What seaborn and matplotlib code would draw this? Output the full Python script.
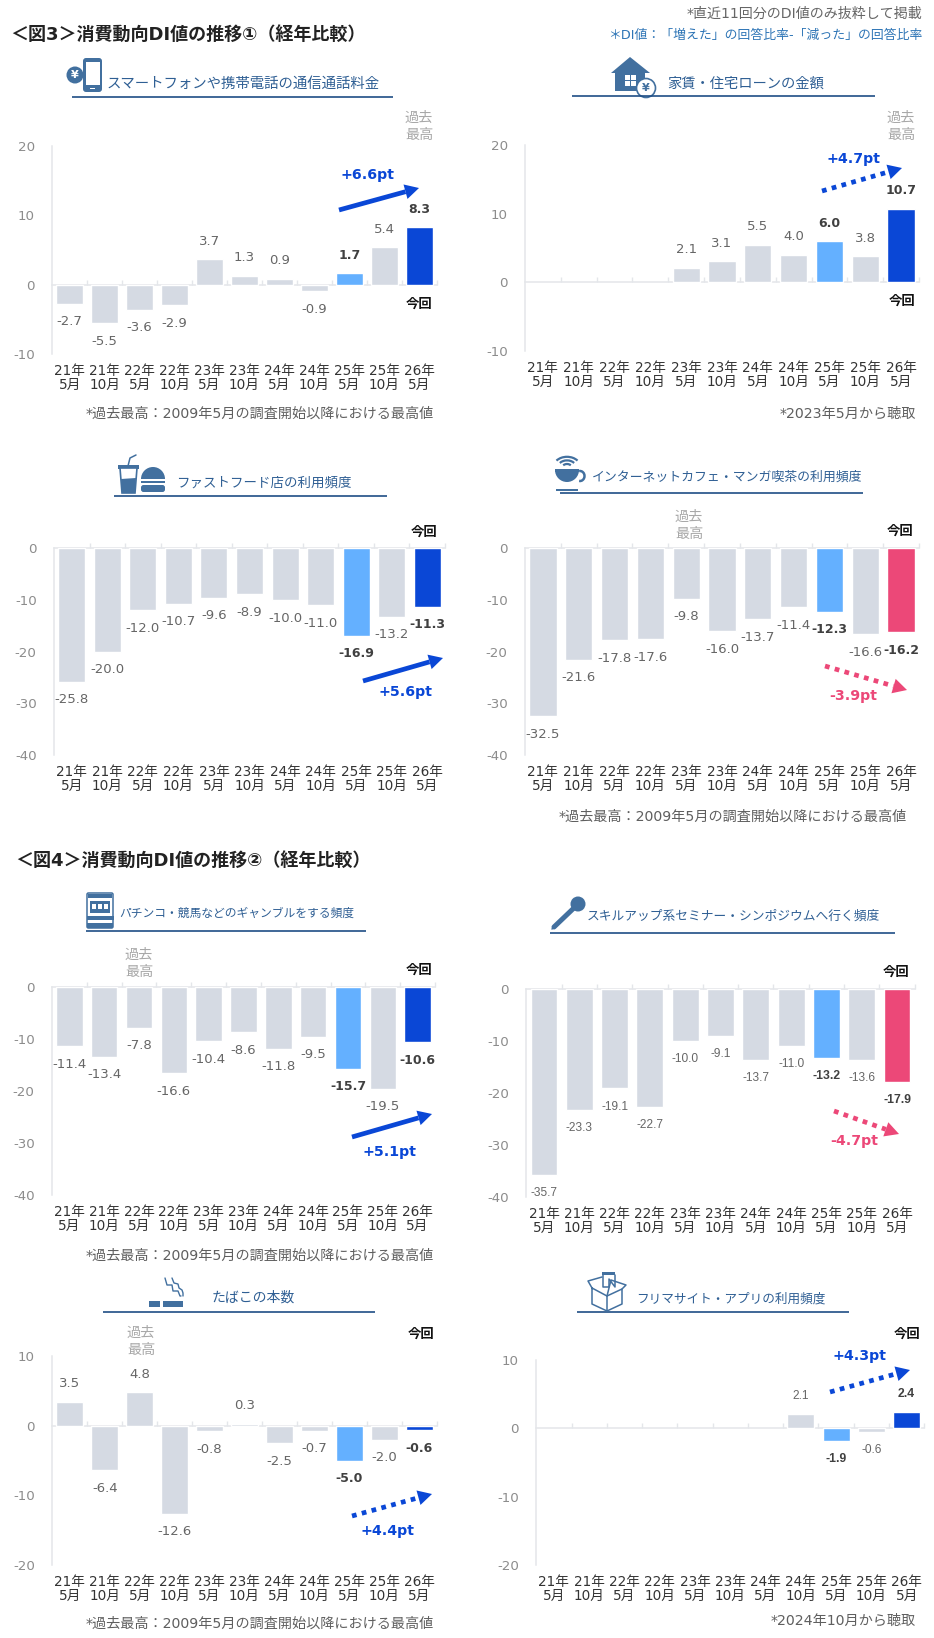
import numpy as np
import pandas as pd
import matplotlib
matplotlib.use("Agg")
import matplotlib.pyplot as plt
from matplotlib.patches import Polygon, Circle, Rectangle, FancyBboxPatch, Wedge, Arc
import seaborn as sns

# ---- survey periods and DI values ----
categories = ["21年\n5月", "21年\n10月", "22年\n5月", "22年\n10月", "23年\n5月", "23年\n10月",
              "24年\n5月", "24年\n10月", "25年\n5月", "25年\n10月", "26年\n5月"]
nan = float("nan")
phone_fee = [-2.7, -5.5, -3.6, -2.9, 3.7, 1.3, 0.9, -0.9, 1.7, 5.4, 8.3]
rent_loan = [nan, nan, nan, nan, 2.1, 3.1, 5.5, 4.0, 6.0, 3.8, 10.7]
fast_food = [-25.8, -20.0, -12.0, -10.7, -9.6, -8.9, -10.0, -11.0, -16.9, -13.2, -11.3]
net_cafe = [-32.5, -21.6, -17.8, -17.6, -9.8, -16.0, -13.7, -11.4, -12.3, -16.6, -16.2]
gambling = [-11.4, -13.4, -7.8, -16.6, -10.4, -8.6, -11.8, -9.5, -15.7, -19.5, -10.6]
seminar = [-35.7, -23.3, -19.1, -22.7, -10.0, -9.1, -13.7, -11.0, -13.2, -13.6, -17.9]
tobacco = [3.5, -6.4, 4.8, -12.6, -0.8, 0.3, -2.5, -0.7, -5.0, -2.0, -0.6]
flea_app = [nan, nan, nan, nan, nan, nan, nan, 2.1, -1.9, -0.6, 2.4]

GREY, SKY, BLUE, PINK = "#d5dae3", "#64b0ff", "#0a47d6", "#ec4878"
ICON = "#42709f"
HEAD = "#2f5f94"
RULE = "#1f4e85"
AXIS = "#e4e6ea"

W, H = 934, 1638
sns.set_theme(style="white")
plt.rcParams["font.family"] = ["DejaVu Sans", "Noto Sans CJK JP"]
plt.rcParams["axes.unicode_minus"] = False
fig = plt.figure(figsize=(W / 100, H / 100), dpi=100, facecolor="white")

panels = [
    dict(values=phone_fee, box=(52.3, 146, 436.7, 354.3), ylim=(-10, 20), yticks=[-10, 0, 10, 20], last=BLUE,
         head="スマートフォンや携帯電話の通信通話料金", hx=107, hy=84, hs=10.4, rule=(72, 393, 97),
         best=(419, 126), now=(419, 304), note=("*過去最高：2009年5月の調査開始以降における最高値", 434, 414),
         arrow=((339, 210), (419, 188), False), delta=("+6.6pt", 368, 175)),
    dict(values=rent_loan, box=(525, 144.7, 919, 351.3), ylim=(-10, 20), yticks=[-10, 0, 10, 20], last=BLUE,
         head="家賃・住宅ローンの金額", hx=667, hy=84, hs=10.3, rule=(572, 875, 96),
         best=(901, 126), now=(902, 301), note=("*2023年5月から聴取", 916, 414),
         arrow=((822, 191), (902, 168), True), delta=("+4.7pt", 853, 159)),
    dict(values=fast_food, box=(54, 548.3, 445, 755), ylim=(-40, 0), yticks=[-40, -30, -20, -10, 0], last=BLUE,
         head="ファストフード店の利用頻度", hx=176, hy=483, hs=9.7, rule=(114, 387, 496),
         best=None, now=(424, 532), note=None,
         arrow=((363, 681), (443, 658), False), delta=("+5.6pt", 406, 692)),
    dict(values=net_cafe, box=(525, 548.3, 919, 755), ylim=(-40, 0), yticks=[-40, -30, -20, -10, 0], last=PINK,
         head="インターネットカフェ・マンガ喫茶の利用頻度", hx=592, hy=477, hs=9.3, rule=(560, 863, 493),
         best=(689, 525), now=(900, 531), note=("*過去最高：2009年5月の調査開始以降における最高値", 907, 817),
         arrow=((825, 666), (907, 690), True), delta=("-3.9pt", 853, 696)),
    dict(values=gambling, box=(52, 987.3, 435, 1195), ylim=(-40, 0), yticks=[-40, -30, -20, -10, 0], last=BLUE,
         head="パチンコ・競馬などのギャンブルをする頻度", hx=119, hy=913, hs=8.5, rule=(86, 366, 931),
         best=(139, 963), now=(419, 970), note=("*過去最高：2009年5月の調査開始以降における最高値", 434, 1256),
         arrow=((352, 1137), (432, 1114), False), delta=("+5.1pt", 390, 1152)),
    dict(values=seminar, box=(526.3, 989, 914.7, 1197.3), ylim=(-40, 0), yticks=[-40, -30, -20, -10, 0], last=PINK,
         head="スキルアップ系セミナー・シンポジウムへ行く頻度", hx=587, hy=916, hs=9.2, rule=(550, 895, 933),
         best=None, now=(896, 972), note=None, narrow=True,
         arrow=((834, 1111), (899, 1134), True), delta=("-4.7pt", 854, 1141)),
    dict(values=tobacco, box=(52.3, 1356.3, 436.7, 1565), ylim=(-20, 10), yticks=[-20, -10, 0, 10], last=BLUE,
         head="たばこの本数", hx=212, hy=1298, hs=10, rule=(103, 375, 1312),
         best=(141, 1341), now=(421, 1334), note=("*過去最高：2009年5月の調査開始以降における最高値", 434, 1624),
         arrow=((352, 1516), (432, 1494), True), delta=("+4.4pt", 387, 1531)),
    dict(values=flea_app, box=(536.3, 1360, 924.3, 1565), ylim=(-20, 10), yticks=[-20, -10, 0, 10], last=BLUE,
         head="フリマサイト・アプリの利用頻度", hx=636, hy=1299, hs=9.1, rule=(577, 849, 1312),
         best=None, now=(907, 1334), note=("*2024年10月から聴取", 916, 1621), narrow=True,
         arrow=((830, 1392), (910, 1370), True), delta=("+4.3pt", 859, 1356)),
]

# Full-canvas layer in pixel coordinates for headings, notes, arrows and icons.
deco = fig.add_axes([0, 0, 1, 1], zorder=5, facecolor="none")
deco.set_xlim(0, W)
deco.set_ylim(H, 0)
deco.axis("off")


def draw_panel(p):
    left, top, right, bottom = p["box"]
    ax = fig.add_axes([left / W, 1 - bottom / H, (right - left) / W, (bottom - top) / H], facecolor="none")
    colors = [GREY] * 8 + [SKY, GREY, p["last"]]
    frame = pd.DataFrame({"period": categories, "di": p["values"]})
    sns.barplot(data=frame, x="period", y="di", hue="period", order=categories, hue_order=categories,
                palette=colors, saturation=1, width=0.76, legend=False, ax=ax)
    ax.set_xlim(-0.5, 10.5)
    ax.set_ylim(*p["ylim"])
    ax.set_xlabel("")
    ax.set_ylabel("")
    ax.set_yticks(p["yticks"])
    ax.set_xticks(range(11), categories)
    ax.tick_params(axis="x", length=0, pad=7, labelsize=9.8, labelcolor="#333333")
    for lab in ax.get_xticklabels():
        lab.set_linespacing(1.02)
    ax.tick_params(axis="y", direction="in", length=3.5, width=1, color=AXIS, pad=12.5,
                   labelsize=9.6, labelcolor="#8c8c8c")
    sns.despine(ax=ax, top=True, right=True, bottom=True)
    ax.spines["left"].set_color(AXIS)
    ax.spines["left"].set_linewidth(1.1)

    # Zero line with the category boundary ticks sitting on it.
    y0, y1 = p["ylim"]
    zero = ax.secondary_xaxis((0 - y0) / (y1 - y0))
    zero.set_alignment("bottom")
    zero.set_xticks(np.arange(0.5, 10.6, 1.0), [""] * 11)
    zero.tick_params(direction="in", length=3.5, width=1, color=AXIS)
    for spine in zero.spines.values():
        spine.set_color(AXIS)
        spine.set_linewidth(1.1)

    narrow = p.get("narrow", False)
    for i, v in enumerate(p["values"]):
        if v != v:
            continue
        strong = i in (8, 10)
        family = ["Liberation Sans", "DejaVu Sans"] if narrow else ["DejaVu Sans"]
        size = (8.8 if strong else 8.6) if narrow else (9.0 if strong else 9.5)
        ax.annotate(f"{v:.1f}", xy=(i, v), xytext=(0, 13 if v > 0 else -13), textcoords="offset points",
                    ha="center", va="center", fontsize=size, family=family,
                    fontweight="bold" if strong else "normal",
                    color="#404040" if strong else "#666666")

    # Heading and rule
    deco.text(p["hx"], p["hy"], p["head"], fontsize=p["hs"], color=HEAD, va="center", ha="left",
              family=["Noto Sans CJK JP"])
    x0, x1, yr = p["rule"]
    deco.plot([x0, x1], [yr, yr], color=RULE, lw=1.2, solid_capstyle="butt")

    if p["best"]:
        deco.text(*p["best"], "過去\n最高", fontsize=10.2, color="#a8a8a8", ha="center", va="center",
                  family=["Noto Sans CJK JP"], linespacing=1.3)
    deco.text(*p["now"], "今回", fontsize=9.6, color="#111111", ha="center", va="center",
              fontweight="bold", family=["Noto Sans CJK JP"])
    if p["note"]:
        txt, xr, yn = p["note"]
        deco.text(xr, yn, txt, fontsize=10.2, color="#5f5f5f", ha="right", va="center")

    (xa, ya), (xb, yb), dotted = p["arrow"]
    colour = p["last"]
    label, xl, yl = p["delta"]
    deco.text(xl, yl, label, fontsize=10.2, fontweight="bold", color=colour, ha="center", va="center")
    ux, uy = xb - xa, yb - ya
    n = np.hypot(ux, uy)
    ux, uy = ux / n, uy / n
    bx, by = xb - ux * 14, yb - uy * 14
    if dotted:
        deco.plot([xa, bx], [ya, by], color=colour, lw=3.4, dashes=(1, 1.15), dash_capstyle="butt")
    else:
        deco.plot([xa, bx], [ya, by], color=colour, lw=3.4, solid_capstyle="butt")
    deco.add_patch(Polygon([(xb, yb), (bx - uy * 7.5, by + ux * 7.5), (bx + uy * 7.5, by - ux * 7.5)],
                           closed=True, color=colour, lw=0))


for panel in panels:
    draw_panel(panel)

# Section titles and the notes at the top right
for x, y, title in [(10, 35, "＜図3＞消費動向DI値の推移①（経年比較）"), (15, 861, "＜図4＞消費動向DI値の推移②（経年比較）")]:
    deco.text(x, y, title, fontsize=13, fontweight="bold", color="#222222", ha="left", va="center")
deco.text(922, 14, "*直近11回分のDI値のみ抜粋して掲載", fontsize=10.1, color="#666666", ha="right", va="center")
deco.text(922, 35, "＊DI値：「増えた」の回答比率-「減った」の回答比率", fontsize=9.25, color="#2e75b6", ha="right", va="center")


# ---- small category pictograms ----
def rect(x, y, w, h, c=ICON, **kw):
    deco.add_patch(Rectangle((x, y), w, h, facecolor=c, edgecolor="none", **kw))


def rrect(x, y, w, h, r=2, fc=ICON, ec="none", lw=0):
    deco.add_patch(FancyBboxPatch((x + r, y + r), w - 2 * r, h - 2 * r, boxstyle=f"round,pad={r}",
                                  facecolor=fc, edgecolor=ec, linewidth=lw))


def disc(x, y, r, fc=ICON, ec="none", lw=0):
    deco.add_patch(Circle((x, y), r, facecolor=fc, edgecolor=ec, linewidth=lw))


def line(xs, ys, lw=1.2, c=ICON):
    deco.plot(xs, ys, color=c, lw=lw, solid_capstyle="round")


# phone with yen coin
disc(75, 75, 8.5)
deco.text(75, 75, "¥", color="white", fontsize=8, fontweight="bold", ha="center", va="center")
rrect(83, 58, 19, 34, r=3)
rect(85.5, 62, 14, 23, c="white")
rect(90, 87.5, 5, 1.5, c="white")

# house with yen coin
deco.add_patch(Polygon([(630, 57), (650, 73), (611, 73)], closed=True, color=ICON, lw=0))
rect(615, 72, 30, 19)
for wx, wy in [(625, 75), (631, 75), (625, 81), (631, 81)]:
    rect(wx, wy, 5, 5, c="white")
disc(646, 88, 9.5, fc="white", ec=ICON, lw=1.2)
deco.text(646, 88, "¥", color=ICON, fontsize=8, fontweight="bold", ha="center", va="center")

# drink and burger
line([128, 130, 136], [466, 458, 455], lw=1.1)
rect(118, 465, 21, 3.5)
deco.add_patch(Polygon([(120, 468), (137, 468), (135, 493), (122, 493)], closed=True, facecolor="white",
                       edgecolor=ICON, lw=1.2))
deco.add_patch(Polygon([(121, 479), (136, 478), (135, 493), (122, 493)], closed=True, color=ICON, lw=0))
deco.add_patch(Wedge((153, 479), 12, 180, 360, color=ICON, lw=0))
rect(141, 481, 24, 1.5)
rrect(141, 485, 24, 7, r=2.5)

# cup with signal arcs
for rad in (14, 9.5, 5):
    deco.add_patch(Arc((567, 468), rad * 2, rad * 1.6, theta1=215, theta2=325, color=ICON, lw=1.6))
deco.add_patch(Wedge((567, 470), 12, 0, 180, color=ICON, lw=0))
rect(555, 469, 24, 3)
deco.add_patch(Arc((580, 476), 9, 10, theta1=-100, theta2=100, color=ICON, lw=1.8))
rect(556, 489, 22, 1.6)

# slot machine
rrect(87, 893, 26, 35, r=1.5, fc="white", ec=ICON, lw=1.1)
rect(88, 894, 24, 4)
rect(90, 901, 20, 12)
for sx in (92, 98, 104):
    rect(sx, 904, 4, 5, c="white")
rect(87, 916, 27, 4)
rect(87, 923, 26, 5)

# microphone
line([554, 576], [927, 906], lw=3.6)
line([552, 556], [929, 925], lw=1.1)
disc(578, 904, 7.5)

# cigarette and smoke
rect(149, 1301, 11, 6)
rect(163, 1301, 20, 6)
line([165, 167, 172, 173, 178, 180, 181], [1278, 1285, 1285, 1291, 1291, 1296, 1296], lw=1.0)
line([172, 174, 178, 179, 182, 183, 183], [1278, 1283, 1284, 1288, 1290, 1293, 1296], lw=1.0)

# parcel with clothes
for xs, ys in [([592, 592, 607, 622, 622, 607, 592], [1288, 1304, 1311, 1304, 1289, 1296, 1288]),
               ([607, 607], [1296, 1311]), ([592, 588, 602], [1288, 1281, 1277]),
               ([622, 626, 611, 607], [1289, 1285, 1280, 1296])]:
    line(xs, ys, lw=1.1)
rect(602, 1272, 13, 3)
line([603, 603, 609, 609, 615, 615], [1275, 1287, 1287, 1279, 1287, 1275], lw=1.1)

fig.savefig("out.png", dpi=100, facecolor="white")
